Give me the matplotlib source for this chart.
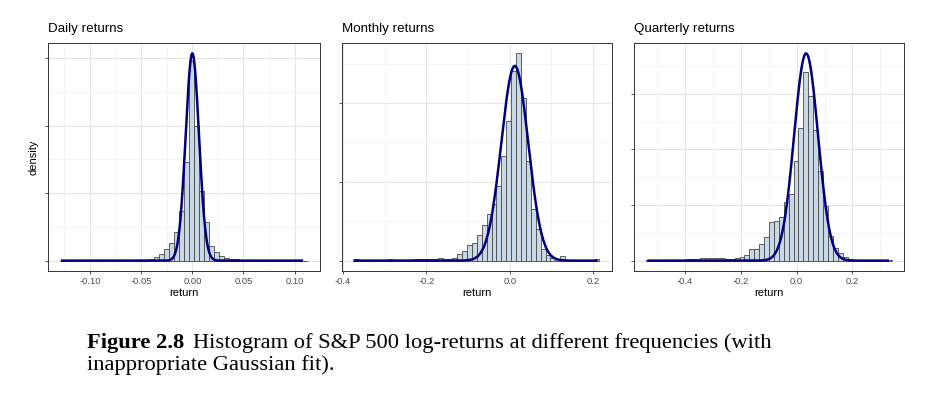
import numpy as np
import matplotlib
matplotlib.use("Agg")
import matplotlib.pyplot as plt

# ---------------- data ----------------
panel_titles = ["Daily returns", "Monthly returns", "Quarterly returns"]
n_bins = 50

daily_hist_range = (-0.129, 0.113)
daily_density = [0.02, 0, 0, 0, 0, 0, 0, 0, 0, 0,
                 0.02, 0.02, 0.04, 0.06, 0.10, 0.15, 0.20, 0.30, 0.50, 1.18,
                 1.97, 3.44, 5.10, 8.36, 14.75, 29.3, 59.0, 39.8, 20.7, 11.3,
                 4.20, 2.65, 1.28, 0.79, 0.59, 0.39, 0.20, 0.10, 0.06, 0.04,
                 0.02, 0.02, 0, 0.02, 0, 0, 0, 0, 0, 0.02]
daily_mean, daily_sd = 0.0, 0.0065
daily_line_range = (-0.1285, 0.1083)

monthly_hist_range = (-0.3734, 0.2153)
monthly_density = [0.085, 0, 0, 0, 0, 0, 0, 0.085, 0, 0,
                   0, 0, 0.085, 0.085, 0.085, 0.085, 0.085, 0.17, 0.085, 0.085,
                   0.17, 0.42, 0.59, 0.97, 1.12, 1.62, 2.28, 2.93, 3.59, 4.75,
                   6.63, 8.88, 12.0, 13.15, 10.3, 6.29, 3.27, 2.00, 0.74, 0.38,
                   0.17, 0.085, 0.27, 0, 0, 0, 0, 0, 0, 0.085]
monthly_mean, monthly_sd = 0.012, 0.0323
monthly_line_range = (-0.3757, 0.211)

quarterly_hist_range = (-0.539, 0.341)
quarterly_density = [0.02, 0.02, 0.02, 0.02, 0.03, 0.03, 0.03, 0.03, 0.06, 0.06,
                     0.075, 0.12, 0.12, 0.135, 0.12, 0.105, 0.09, 0.09, 0.12, 0.165,
                     0.27, 0.54, 0.54, 0.76, 1.06, 1.74, 1.77, 1.96, 2.63, 2.99,
                     4.46, 5.95, 8.47, 7.41, 5.88, 4.05, 2.47, 1.09, 0.57, 0.34,
                     0.16, 0.075, 0.045, 0.03, 0.045, 0.045, 0.045, 0.02, 0.02, 0.02]
quarterly_mean, quarterly_sd = 0.034, 0.0428
quarterly_line_range = (-0.535, 0.331)

x_major = [[-0.10, -0.05, 0.00, 0.05, 0.10],
           [-0.4, -0.2, 0.0, 0.2],
           [-0.4, -0.2, 0.0, 0.2]]
x_labels = [["-0.10", "-0.05", "0.00", "0.05", "0.10"],
            ["-0.4", "-0.2", "0.0", "0.2"],
            ["-0.4", "-0.2", "0.0", "0.2"]]
x_minor = [[-0.125, -0.075, -0.025, 0.025, 0.075, 0.125],
           [-0.3, -0.1, 0.1],
           [-0.5, -0.3, -0.1, 0.1, 0.3]]
y_major = [[0, 20, 40, 60], [0, 5, 10], [0, 2.5, 5, 7.5]]
y_minor = [[10, 30, 50], [2.5, 7.5, 12.5], [1.25, 3.75, 6.25, 8.75]]

caption_bold = "Figure 2.8"
caption_line1 = "Histogram of S&P 500 log-returns at different frequencies (with"
caption_line2 = "inappropriate Gaussian fit)."

# ---------------- figure ----------------
W, H = 932, 394
fig = plt.figure(figsize=(W / 100, H / 100), dpi=100)
fig.patch.set_facecolor("white")

SANS = ["Liberation Sans", "DejaVu Sans"]
SERIF = ["Liberation Serif", "DejaVu Serif"]

panel_px = [(48, 320.3), (342, 611.7), (634, 904)]
top_px, bot_px = 43, 271

fill = "#c9d8e5"
edge = "#474747"
line_col = "#00007f"

datasets = [
    (daily_hist_range, daily_density, daily_mean, daily_sd, daily_line_range),
    (monthly_hist_range, monthly_density, monthly_mean, monthly_sd, monthly_line_range),
    (quarterly_hist_range, quarterly_density, quarterly_mean, quarterly_sd, quarterly_line_range),
]

axes = []
for i, ((hlo, hhi), dens, mu, sd, (llo, lhi)) in enumerate(datasets):
    l, r = panel_px[i]
    ax = fig.add_axes([l / W, 1 - bot_px / H, (r - l) / W, (bot_px - top_px) / H])
    axes.append(ax)
    edges = np.linspace(hlo, hhi, n_bins + 1)
    dens = np.asarray(dens, dtype=float)
    ax.bar(edges[:-1], dens, width=np.diff(edges), align="edge",
           color=fill, edgecolor=edge, linewidth=0.6, zorder=2)
    xs = np.linspace(llo, lhi, 800)
    ys = np.exp(-0.5 * ((xs - mu) / sd) ** 2) / (sd * np.sqrt(2 * np.pi))
    ax.plot(xs, ys, color=line_col, lw=1.8, zorder=3, solid_capstyle="butt")

    span = hhi - hlo
    ax.set_xlim(hlo - 0.05 * span, hhi + 0.05 * span)
    ymax = max(dens.max(), ys.max())
    ax.set_ylim(-0.05 * ymax, 1.05 * ymax)

    ax.set_xticks(x_major[i])
    ax.set_xticklabels(x_labels[i])
    ax.set_xticks(x_minor[i], minor=True)
    ax.set_yticks(y_major[i])
    ax.set_yticklabels([""] * len(y_major[i]))
    ax.set_yticks(y_minor[i], minor=True)

    ax.grid(which="major", color="#e6e6e6", lw=0.8, zorder=0)
    ax.grid(which="minor", color="#f0f0f0", lw=0.5, zorder=0)
    ax.set_axisbelow(True)
    ax.tick_params(which="major", length=2.2, width=0.6, color="#333333",
                   labelsize=6.8, labelcolor="#4d4d4d", pad=2)
    ax.tick_params(which="minor", length=0)
    for lab in ax.get_xticklabels():
        lab.set_family(SANS)
    for s in ax.spines.values():
        s.set_color("#333333")
        s.set_linewidth(0.7)

    ax.set_xlabel("return", fontsize=8.0, family=SANS, labelpad=1.2)
    if i == 0:
        ax.set_ylabel("density", fontsize=8.0, family=SANS, labelpad=2.5)
    ax.text(0, 1.035, panel_titles[i], transform=ax.transAxes, ha="left",
            va="bottom", fontsize=9.6, family=SANS)

# caption
CAP = 16.2
t1 = fig.text(87 / W, 1 - 348 / H, caption_bold, fontsize=CAP, family=SERIF,
              weight="bold", ha="left", va="baseline")
axes[0].annotate(caption_line1, xy=(1, 0), xycoords=t1, xytext=(6.5, 0),
                 textcoords="offset points", fontsize=CAP, family=SERIF,
                 ha="left", va="bottom", annotation_clip=False)
fig.text(87 / W, 1 - 370 / H, caption_line2, fontsize=CAP, family=SERIF,
         ha="left", va="baseline")

fig.savefig("out.png", dpi=100, facecolor="white")
